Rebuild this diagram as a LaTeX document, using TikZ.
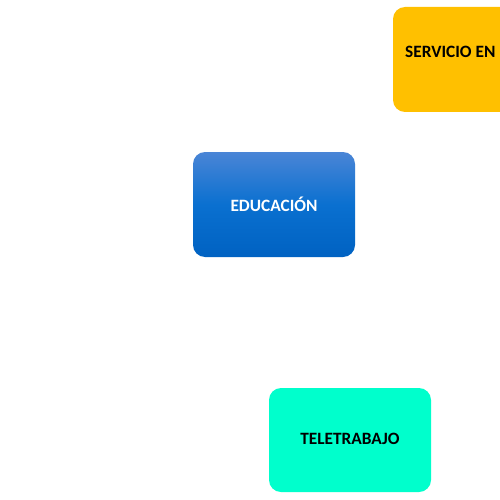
\documentclass[tikz,border=0pt]{standalone}
\usepackage{fontspec}
\setmainfont{Carlito}
\tikzset{
  box/.style={rounded corners=12pt, inner sep=0pt},
  lbl/.style={font=\bfseries\fontsize{17.3}{20}\selectfont, inner sep=0pt}
}
\definecolor{blueTop}{HTML}{4A85D6}
\definecolor{blueMid}{HTML}{0A70D0}
\definecolor{blueBot}{HTML}{0062C2}
\definecolor{orangeBox}{HTML}{FFC000}
\definecolor{tealBox}{HTML}{00FFCC}
\begin{document}
\begin{tikzpicture}[x=1pt,y=-1pt]
\useasboundingbox (0,0) rectangle (500,500);
\clip (0,0) rectangle (500,500);
\fill[white] (0,0) rectangle (500,500);
% blue box
\shade[box, top color=blueTop, bottom color=blueBot, middle color=blueMid] (193,152) rectangle (355,257);
\node[lbl, text=white] (edu) at (274,204) {EDUCACIÓN};
% orange box
\fill[box, orangeBox] (393,7) rectangle (560,112);
\node[lbl, text=black, anchor=west] (serv) at (405,52) {SERVICIO EN};
% teal box
\fill[box, tealBox] (269,388) rectangle (431,492);
\node[lbl, text=black] (tele) at (350,439) {TELETRABAJO};
\end{tikzpicture}
\end{document}
